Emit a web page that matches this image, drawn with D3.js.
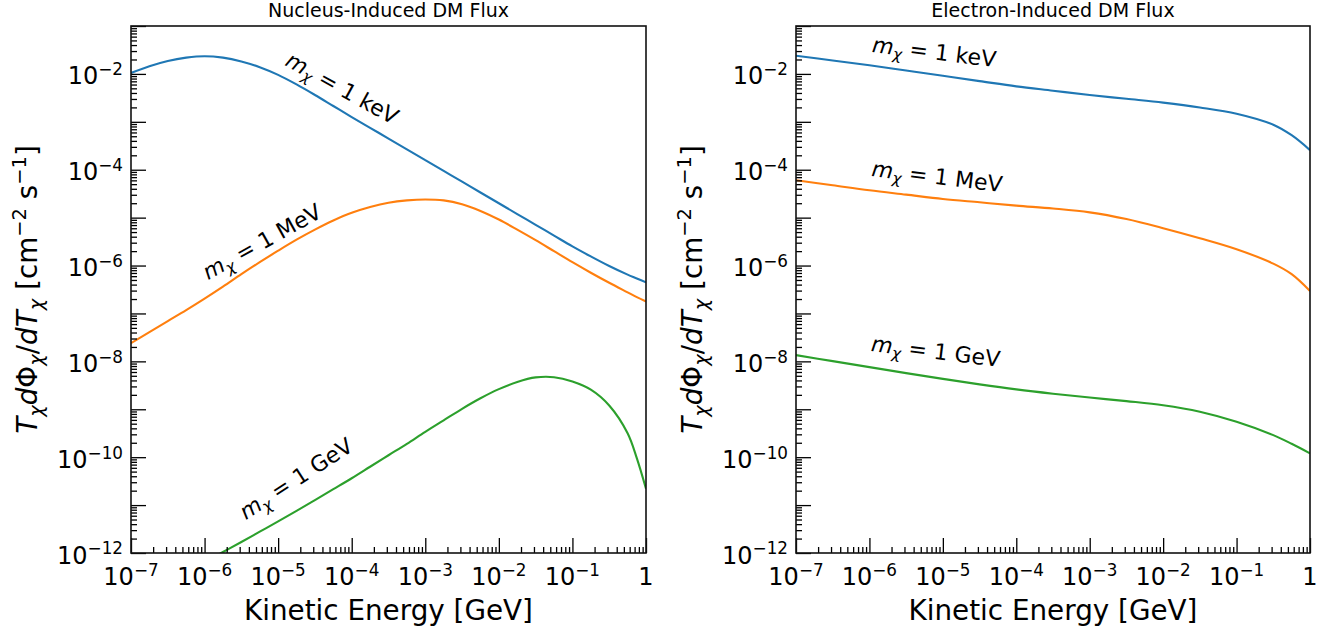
<!DOCTYPE html>
<html>
<head>
<meta charset="utf-8">
<script src="https://cdn.jsdelivr.net/npm/d3@7"></script>
<style>
  body { margin: 0; background: #fff; }
  text { font-family: "DejaVu Sans", sans-serif; fill: #000; }
</style>
</head>
<body>
<svg id="chart" width="1335" height="635"></svg>
<script>
// all values are log10 of the quantity (energy in GeV, flux in cm^-2 s^-1)
var nucEnergy = [-7, -6.75, -6.5, -6.25, -6, -5.75, -5.5, -5.25, -5, -4.75, -4.5, -4.25, -4, -3.75, -3.5,
                 -3.25, -3, -2.75, -2.5, -2.25, -2, -1.75, -1.5, -1.25, -1, -0.75, -0.5, -0.25, -0.125, 0];
var nucKeV = [-1.98, -1.84, -1.73, -1.66, -1.63, -1.66, -1.74, -1.86, -2.02, -2.22, -2.44, -2.67, -2.90, -3.125, -3.35,
              -3.575, -3.80, -4.025, -4.25, -4.475, -4.70, -4.925, -5.15, -5.375, -5.60, -5.81, -6.01, -6.19, -6.27, -6.35];
var nucMeV = [-7.62, -7.39, -7.16, -6.93, -6.69, -6.44, -6.18, -5.93, -5.69, -5.46, -5.25, -5.06, -4.90, -4.78, -4.69,
              -4.64, -4.62, -4.64, -4.72, -4.86, -5.04, -5.25, -5.47, -5.70, -5.93, -6.15, -6.36, -6.56, -6.66, -6.75];
var nucGeV = [-13.03, -12.82, -12.61, -12.40, -12.19, -11.98, -11.77, -11.555, -11.34, -11.12, -10.895, -10.668, -10.44, -10.20, -9.96,
              -9.72, -9.47, -9.23, -8.99, -8.77, -8.58, -8.43, -8.335, -8.33, -8.42, -8.59, -8.92, -9.50, -10.02, -10.66];

var eleEnergy = [-7, -6.5, -6, -5.5, -5, -4.5, -4, -3.5, -3, -2.5, -2, -1.5, -1, -0.5, -0.25, 0];
var eleKeV = [-1.62, -1.72, -1.82, -1.93, -2.04, -2.15, -2.26, -2.35, -2.44, -2.52, -2.60, -2.70, -2.83, -3.06, -3.28, -3.59];
var eleMeV = [-4.22, -4.325, -4.43, -4.52, -4.61, -4.68, -4.75, -4.81, -4.89, -5.03, -5.22, -5.43, -5.66, -5.96, -6.18, -6.53];
var eleGeV = [-7.87, -7.995, -8.12, -8.245, -8.365, -8.48, -8.585, -8.675, -8.755, -8.83, -8.915, -9.05, -9.26, -9.54, -9.72, -9.92];

var massNames = ["1 keV", "1 MeV", "1 GeV"];
var titles = ["Nucleus-Induced DM Flux", "Electron-Induced DM Flux"];
var xTickExp = [-7, -6, -5, -4, -3, -2, -1, 0];
var yTickExp = [-12, -11, -10, -9, -8, -7, -6, -5, -4, -3, -2, -1];
var yLabelExp = [-12, -10, -8, -6, -4, -2];
var colors = ["#1f77b4", "#ff7f0e", "#2ca02c"];

// where the curve labels sit (log10 energy, log10 flux, rotation)
var nucLabelAt = [[-4.18, -2.44, 29], [-5.17, -5.64, -29], [-4.70, -10.58, -33]];
var eleLabelAt = [[-5.13, -1.70, 7], [-5.09, -4.30, 7], [-5.11, -7.95, 7]];

var svg = d3.select("#chart");
var plotTop = 26, plotBottom = 553;
var tickFont = 24, labelFont = 27.8;

var panels = [
  {title: titles[0], left: 131, right: 646, energy: nucEnergy, series: [nucKeV, nucMeV, nucGeV], labels: nucLabelAt},
  {title: titles[1], left: 796, right: 1310, energy: eleEnergy, series: [eleKeV, eleMeV, eleGeV], labels: eleLabelAt}
];

// writes mathtext-like runs (italic, sub, sup) into a text element
function rich(el, parts, size) {
  var shift = 0;
  parts.forEach(function(p) {
    var target = p.sub ? 0.2 * size : p.sup ? -0.38 * size : 0;
    el.append("tspan")
      .attr("dy", target - shift)
      .attr("font-size", (p.sub || p.sup) ? size * 0.7 : size)
      .attr("font-style", p.it ? "italic" : "normal")
      .text(p.t);
    shift = target;
  });
}

function powLabel(el, e, size) {
  if (e === 0) { rich(el, [{t: "1"}], size); return; }
  rich(el, [{t: "10"}, {t: "\u2212" + Math.abs(e), sup: true}], size);
}

function minors(lo, hi) {
  var out = [];
  for (var d = lo; d < hi; d++) for (var k = 2; k <= 9; k++) out.push(k * Math.pow(10, d));
  return out;
}

panels.forEach(function(p, pi) {
  var x = d3.scaleLog().domain([1e-7, 1]).range([p.left, p.right]);
  var y = d3.scaleLog().domain([1e-12, 1e-1]).range([plotBottom, plotTop]);
  var g = svg.append("g");

  var clipId = "clip" + pi;
  g.append("clipPath").attr("id", clipId).append("rect")
    .attr("x", p.left).attr("y", plotTop).attr("width", p.right - p.left).attr("height", plotBottom - plotTop);

  var line = d3.line()
    .x(function(d) { return x(Math.pow(10, d[0])); })
    .y(function(d) { return y(Math.pow(10, d[1])); })
    .curve(d3.curveCatmullRom.alpha(0.5));

  p.series.forEach(function(s, i) {
    var pts = p.energy.map(function(e, j) { return [e, s[j]]; });
    g.append("path").datum(pts)
      .attr("clip-path", "url(#" + clipId + ")")
      .attr("fill", "none").attr("stroke", colors[i]).attr("stroke-width", 2.1)
      .attr("d", line);
  });

  // ticks, pointing inward
  g.append("g").attr("transform", "translate(0," + plotBottom + ")")
    .call(d3.axisBottom(x).tickValues(xTickExp.map(function(e) { return Math.pow(10, e); })).tickSize(-15).tickFormat(""));
  g.append("g").attr("transform", "translate(0," + plotBottom + ")")
    .call(d3.axisBottom(x).tickValues(minors(-7, 0)).tickSize(-6).tickFormat(""));
  g.append("g").attr("transform", "translate(" + p.left + ",0)")
    .call(d3.axisLeft(y).tickValues(yTickExp.map(function(e) { return Math.pow(10, e); })).tickSize(-15).tickFormat(""));
  g.append("g").attr("transform", "translate(" + p.left + ",0)")
    .call(d3.axisLeft(y).tickValues(minors(-12, -1)).tickSize(-6).tickFormat(""));
  g.selectAll(".domain").remove();
  g.selectAll(".tick line").attr("stroke", "#000").attr("stroke-width", 1.3);

  // tick labels
  xTickExp.forEach(function(e) {
    var t = g.append("text").attr("x", x(Math.pow(10, e))).attr("y", plotBottom + 32)
      .attr("text-anchor", "middle");
    powLabel(t, e, tickFont);
  });
  yLabelExp.forEach(function(e) {
    var t = g.append("text").attr("x", p.left - 8).attr("y", y(Math.pow(10, e)) + 10.5)
      .attr("text-anchor", "end");
    powLabel(t, e, tickFont);
  });

  // frame
  g.append("rect").attr("x", p.left).attr("y", plotTop)
    .attr("width", p.right - p.left).attr("height", plotBottom - plotTop)
    .attr("fill", "none").attr("stroke", "#111").attr("stroke-width", 1.6);

  var cx = (p.left + p.right) / 2;
  g.append("text").attr("x", cx).attr("y", 17).attr("text-anchor", "middle")
    .attr("font-size", 19).text(p.title);

  g.append("text").attr("x", cx).attr("y", 620).attr("text-anchor", "middle")
    .attr("font-size", labelFont).text("Kinetic Energy [GeV]");

  var yl = g.append("text").attr("text-anchor", "middle")
    .attr("transform", "translate(" + (p.left - 94) + "," + ((plotTop + plotBottom) / 2) + ") rotate(-90)");
  rich(yl, [
    {t: "T", it: true}, {t: "\u03c7", it: true, sub: true}, {t: "d", it: true}, {t: "\u03a6"},
    {t: "\u03c7", it: true, sub: true}, {t: "/"}, {t: "d", it: true}, {t: "T", it: true},
    {t: "\u03c7", it: true, sub: true}, {t: " [cm"}, {t: "\u22122", sup: true}, {t: " s"},
    {t: "\u22121", sup: true}, {t: "]"}
  ], labelFont);

  // curve labels
  p.labels.forEach(function(l, i) {
    var lx = x(Math.pow(10, l[0])), ly = y(Math.pow(10, l[1]));
    var t = g.append("text").attr("text-anchor", "middle").attr("dy", "0.35em")
      .attr("transform", "translate(" + lx + "," + ly + ") rotate(" + l[2] + ")");
    rich(t, [{t: "m", it: true}, {t: "\u03c7", it: true, sub: true}, {t: " = " + massNames[i]}], 22);
  });
});
</script>
</body>
</html>
